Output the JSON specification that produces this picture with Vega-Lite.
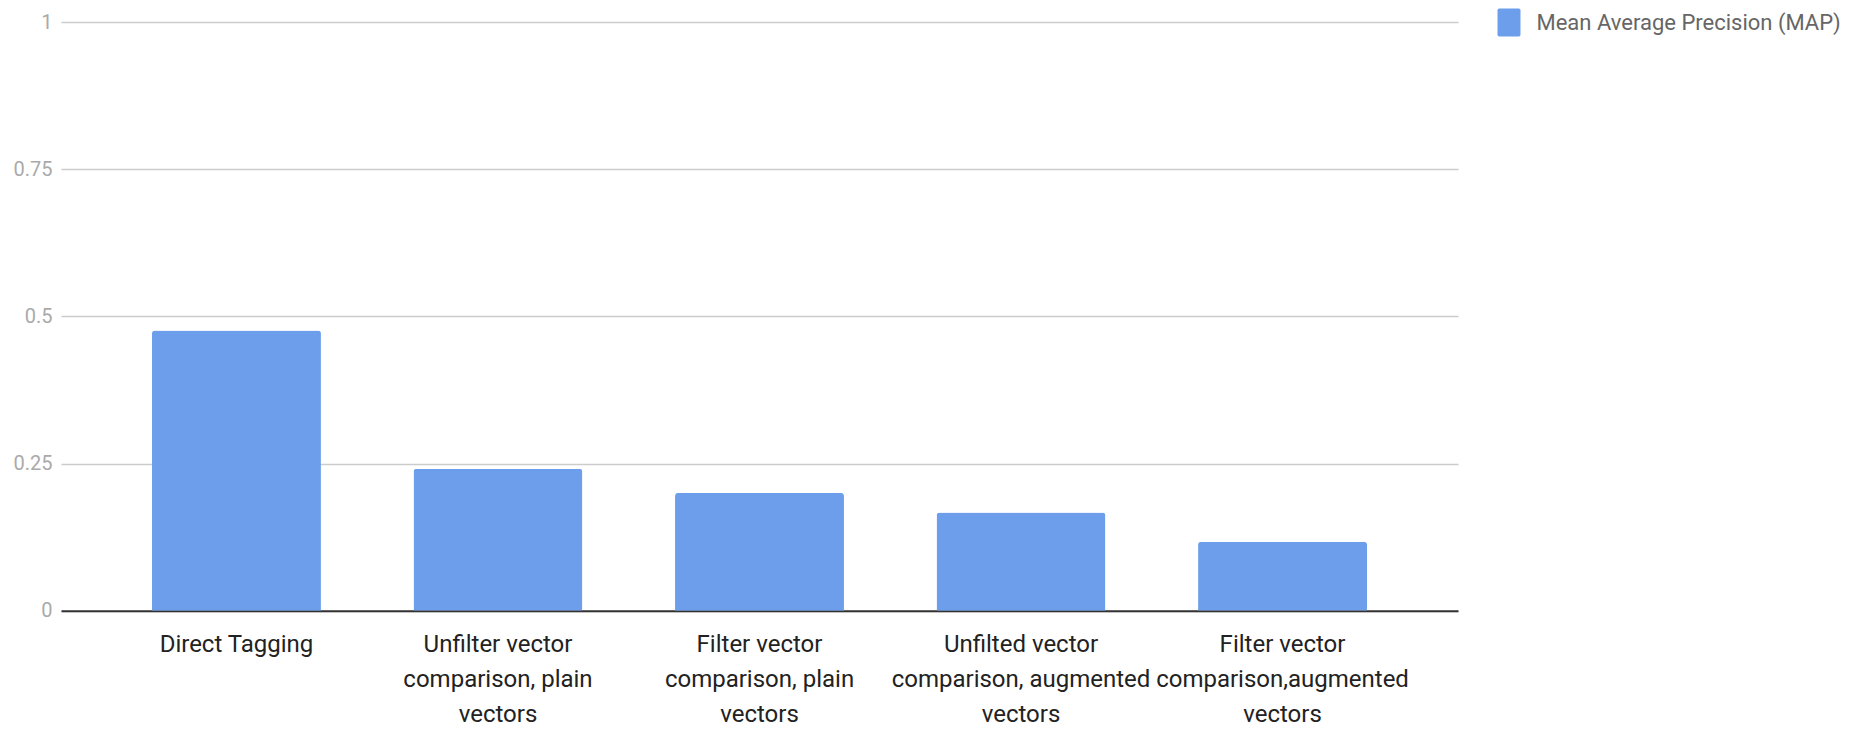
{
  "$schema": "https://vega.github.io/schema/vega-lite/v6.json",
  "width": 1397,
  "height": 588.7,
  "autosize": {"type": "none"},
  "padding": {"left": 61, "top": 22, "right": 391, "bottom": 120.3},
  "background": "white",
  "data": {
    "values": [
      {"method": "Direct Tagging", "series": "Mean Average Precision (MAP)", "map": 0.476},
      {"method": "Unfilter vector comparison, plain vectors", "series": "Mean Average Precision (MAP)", "map": 0.241},
      {"method": "Filter vector comparison, plain vectors", "series": "Mean Average Precision (MAP)", "map": 0.2},
      {"method": "Unfilted vector comparison, augmented vectors", "series": "Mean Average Precision (MAP)", "map": 0.167},
      {"method": "Filter vector comparison,augmented vectors", "series": "Mean Average Precision (MAP)", "map": 0.117}
    ]
  },
  "mark": {"type": "bar", "cornerRadiusTopLeft": 3, "cornerRadiusTopRight": 3},
  "encoding": {
    "x": {
      "field": "method",
      "type": "nominal",
      "sort": null,
      "scale": {"paddingInner": 0.354, "paddingOuter": 0.348},
      "axis": {
        "title": null,
        "labelAngle": 0,
        "ticks": false,
        "domainColor": "#333333",
        "domainWidth": 2,
        "labelFont": "Roboto",
        "labelFontSize": 24,
        "labelColor": "#222222",
        "labelPadding": 22,
        "labelLineHeight": 35,
        "labelLimit": 400,
        "labelOverlap": false,
        "labelBound": false,
        "labelExpr": "datum.value == 'Unfilter vector comparison, plain vectors' ? ['Unfilter vector', 'comparison, plain', 'vectors'] : datum.value == 'Filter vector comparison, plain vectors' ? ['Filter vector', 'comparison, plain', 'vectors'] : datum.value == 'Unfilted vector comparison, augmented vectors' ? ['Unfilted vector', 'comparison, augmented', 'vectors'] : datum.value == 'Filter vector comparison,augmented vectors' ? ['Filter vector', 'comparison,augmented', 'vectors'] : datum.value"
      }
    },
    "y": {
      "field": "map",
      "type": "quantitative",
      "scale": {"domain": [0, 1], "nice": false},
      "axis": {
        "title": null,
        "values": [0, 0.25, 0.5, 0.75, 1],
        "labelExpr": "'' + datum.value",
        "ticks": false,
        "domain": false,
        "gridColor": "#cccccc",
        "gridWidth": 1.5,
        "labelFont": "Roboto",
        "labelFontSize": 20,
        "labelColor": "#aaaaaa",
        "labelPadding": 9
      }
    },
    "color": {
      "field": "series",
      "type": "nominal",
      "scale": {"range": ["#6d9eeb"]},
      "legend": {
        "title": null,
        "orient": "none",
        "legendX": 1434,
        "legendY": -13.5,
        "padding": 0,
        "symbolType": "M-0.82,-0.88Q-0.82,-1,-0.7,-1H0.7Q0.82,-1,0.82,-0.88V0.88Q0.82,1,0.7,1H-0.7Q-0.82,1,-0.82,0.88Z",
        "symbolSize": 784,
        "symbolStrokeWidth": 0,
        "symbolOpacity": 1,
        "labelFont": "Roboto",
        "labelFontSize": 22,
        "labelColor": "#666666",
        "labelOffset": 13.5,
        "labelLimit": 400
      }
    }
  },
  "config": {"view": {"stroke": null}}
}
